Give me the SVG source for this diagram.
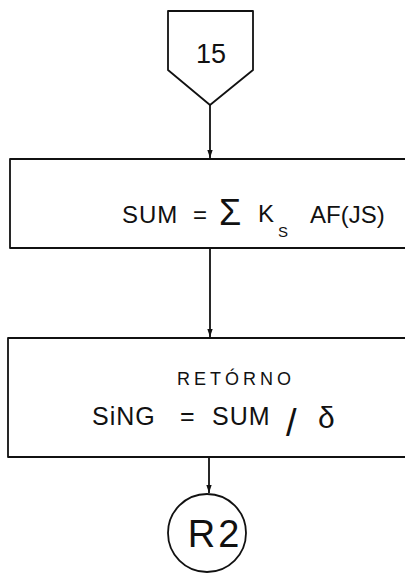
<svg xmlns="http://www.w3.org/2000/svg" width="405" height="580" viewBox="0 0 405 580">
<style>
.ln{fill:none;stroke:#111;stroke-width:1.8;stroke-linejoin:round}
.t{font-family:"Liberation Sans","DejaVu Sans",sans-serif;fill:#111}
</style>
<defs>
<marker id="a" markerWidth="8" markerHeight="12" refX="12" refY="4" orient="auto" markerUnits="userSpaceOnUse" viewBox="0 0 12 8">
<path d="M0,0 L12,4 L0,8 Z" fill="#111"/>
</marker>
</defs>
<rect width="405" height="580" fill="#fff"/>
<g id="connectors">
<line class="ln" x1="210" y1="105" x2="210" y2="158" marker-end="url(#a)"/>
<line class="ln" x1="210" y1="248" x2="210" y2="337" marker-end="url(#a)"/>
<line class="ln" x1="209" y1="457" x2="209" y2="493" marker-end="url(#a)"/>
</g>
<g id="n15">
<path class="ln" d="M168,11 L253,11 L253,70 L210,105 L168,70 Z"/>
<text class="t" x="211" y="63" font-size="27" text-anchor="middle">15</text>
</g>
<g id="sum">
<rect class="ln" x="10" y="159" width="420" height="89"/>
<text class="t" x="122" y="223" font-size="24" letter-spacing="1">SUM</text>
<text class="t" x="193" y="223" font-size="24">=</text>
<text class="t" x="219" y="225" font-size="36">Σ</text>
<text class="t" x="258" y="222" font-size="24">K</text>
<text class="t" x="278" y="237" font-size="15">S</text>
<text class="t" x="310" y="223" font-size="24">AF(JS)</text>
</g>
<g id="retorno">
<rect class="ln" x="8" y="338" width="420" height="119"/>
<text class="t" x="236" y="385" font-size="18" letter-spacing="4" text-anchor="middle">RETÓRNO</text>
<text class="t" x="92" y="425" font-size="25" letter-spacing="1">SiNG</text>
<text class="t" x="180" y="425" font-size="25">=</text>
<text class="t" x="212" y="425" font-size="25" letter-spacing="1">SUM</text>
<text class="t" x="286" y="436" font-size="38">/</text>
<text class="t" x="318" y="428" font-size="30">δ</text>
</g>
<g id="r2">
<circle class="ln" cx="207" cy="533" r="39"/>
<text class="t" x="215" y="547" font-size="38" text-anchor="middle" letter-spacing="3">R2</text>
</g>
</svg>
